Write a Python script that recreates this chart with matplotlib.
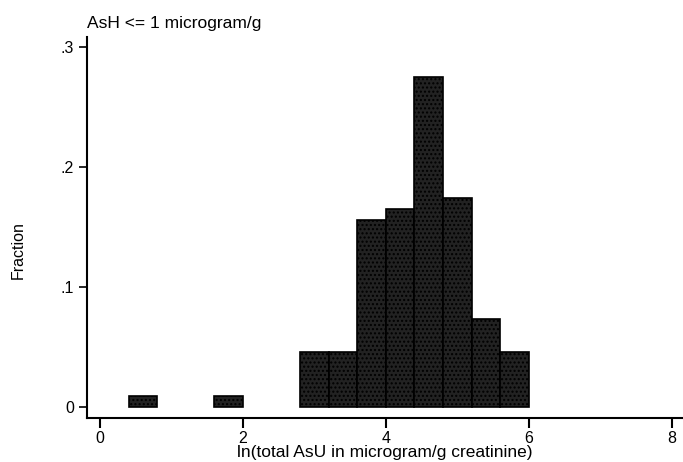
import matplotlib
matplotlib.use("Agg")
import matplotlib.pyplot as plt
import numpy as np

# Histogram of ln(total AsU), bin width 0.4
bin_left = [0.4, 1.6, 2.8, 3.2, 3.6, 4.0, 4.4, 4.8, 5.2, 5.6]
fraction = [0.009, 0.009, 0.046, 0.046, 0.156, 0.165, 0.275, 0.174, 0.073, 0.046]
bin_width = 0.4

x_ticks = [0, 2, 4, 6, 8]
y_ticks = [0, 0.1, 0.2, 0.3]
y_tick_labels = ["0", ".1", ".2", ".3"]

plt.rcParams["font.family"] = ["Liberation Sans", "DejaVu Sans"]
plt.rcParams["hatch.color"] = "#b4b4b4"
plt.rcParams["hatch.linewidth"] = 1.0

fig = plt.figure(figsize=(6.83, 4.62), dpi=100)
ax = fig.add_axes([0.127, 0.0952, 0.873, 0.8254])

ax.bar(bin_left, fraction, width=bin_width, align="edge",
       facecolor="#222222", edgecolor="black", linewidth=1.2, hatch="....")

ax.set_xlim(-0.186, 8.16)
ax.set_ylim(-0.0094, 0.3086)

ax.set_xticks(x_ticks)
ax.set_xticklabels([str(t) for t in x_ticks])
ax.set_yticks(y_ticks)
ax.set_yticklabels(y_tick_labels)

for side in ("top", "right"):
    ax.spines[side].set_visible(False)
for side in ("left", "bottom"):
    ax.spines[side].set_linewidth(1.5)

ax.tick_params(axis="x", direction="out", length=7, width=1.5, pad=2, labelsize=11.5)
ax.tick_params(axis="y", direction="out", length=6, width=1.2, pad=3, labelsize=11.5)

ax.set_xlabel("ln(total AsU in microgram/g creatinine)", fontsize=12.5, labelpad=-0.5)
fig.text(0.026, 0.459, "Fraction", rotation=90, ha="center", va="center", fontsize=11.5)
fig.text(0.127, 0.95, "AsH <= 1 microgram/g", ha="left", va="center", fontsize=12.5)

fig.savefig("out.png", dpi=100)
